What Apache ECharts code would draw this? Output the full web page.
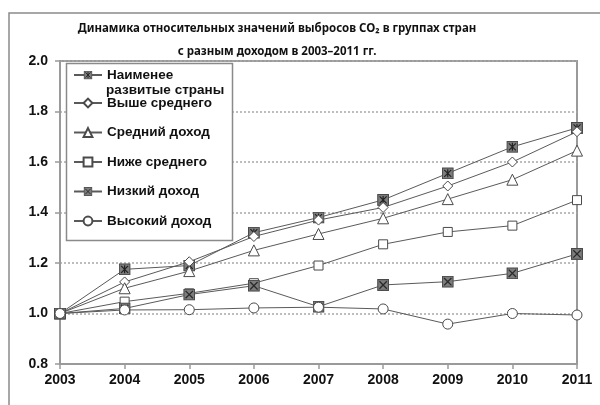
<!DOCTYPE html>
<html>
<head>
<meta charset="utf-8">
<script src="https://cdn.jsdelivr.net/npm/echarts@6/dist/echarts.min.js"></script>
<style>
  html, body { margin: 0; padding: 0; background: #fff; }
  #chart { width: 600px; height: 405px; }
</style>
</head>
<body>
<div id="chart"></div>
<script>
// Years on the category axis
var years = ['2003', '2004', '2005', '2006', '2007', '2008', '2009', '2010', '2011'];

// Relative CO2 emissions (2003 = 1.0) by income group
var leastDeveloped = [1.00, 1.175, 1.19, 1.32, 1.38, 1.45, 1.555, 1.66, 1.735];
var upperMiddle    = [1.00, 1.125, 1.205, 1.305, 1.37, 1.42, 1.505, 1.60, 1.72];
var middleIncome   = [1.00, 1.10, 1.168, 1.25, 1.315, 1.377, 1.453, 1.53, 1.645];
var lowerMiddle    = [1.00, 1.047, 1.08, 1.12, 1.19, 1.274, 1.323, 1.348, 1.449];
var lowIncome      = [1.00, 1.02, 1.075, 1.11, 1.027, 1.113, 1.126, 1.159, 1.236];
var highIncome     = [1.00, 1.014, 1.015, 1.022, 1.025, 1.018, 0.958, 1.0, 0.994];

// Series names as shown in the legend
var names = ['Наименее развитые страны', 'Выше среднего', 'Средний доход',
             'Ниже среднего', 'Низкий доход', 'Высокий доход'];

// Y axis ticks
var yMin = 0.8, yMax = 2.0, yStep = 0.2;

function svgSymbol(svg) {
  return 'image://data:image/svg+xml;charset=utf-8,' + encodeURIComponent(svg);
}
var starBox = svgSymbol("<svg xmlns='http://www.w3.org/2000/svg' width='12' height='12'>" +
  "<rect x='0.6' y='0.6' width='10.8' height='10.8' fill='#7d7d7d' stroke='#4a4a4a' stroke-width='1.2'/>" +
  "<path d='M2.5 2.5L9.5 9.5M9.5 2.5L2.5 9.5M6 2V10' stroke='#222' stroke-width='1.2'/></svg>");
var crossBox = svgSymbol("<svg xmlns='http://www.w3.org/2000/svg' width='12' height='12'>" +
  "<rect x='0.6' y='0.6' width='10.8' height='10.8' fill='#7d7d7d' stroke='#4a4a4a' stroke-width='1.2'/>" +
  "<path d='M2.3 2.3L9.7 9.7M9.7 2.3L2.3 9.7' stroke='#2a2a2a' stroke-width='1.3'/></svg>");

var lineColor = '#5a5a5a';
var edge = '#4a4a4a';

function makeSeries(name, data, symbol, size, filled) {
  return {
    name: name,
    type: 'line',
    data: data,
    symbol: symbol,
    symbolSize: size,
    showAllSymbol: true,
    lineStyle: { color: lineColor, width: 1 },
    itemStyle: { color: filled ? '#7d7d7d' : '#ffffff', borderColor: edge, borderWidth: 1 },
    emphasis: { disabled: true },
    animation: false,
    z: 2
  };
}

var legendText = { fontFamily: 'Liberation Sans', fontWeight: 'bold', fontSize: 13.5, color: '#111' };

var chart = echarts.init(document.getElementById('chart'), null, { renderer: 'canvas' });
chart.setOption({
  animation: false,
  backgroundColor: '#ffffff',
  title: {
    text: 'Динамика относительных значений выбросов CO₂ в группах стран\nс разным доходом в 2003–2011 гг.',
    left: 277,
    top: 17,
    padding: 0,
    textAlign: 'center',
    textStyle: { fontFamily: 'Noto Sans', fontWeight: 'bold', fontSize: 11.5, color: '#111', lineHeight: 23 }
  },
  grid: {
    left: 60, right: 23, top: 61, bottom: 41,
    show: true, borderColor: '#9a9a9a', borderWidth: 2, backgroundColor: 'transparent'
  },
  xAxis: {
    type: 'category',
    data: years,
    boundaryGap: false,
    axisLine: { lineStyle: { color: '#9a9a9a', width: 2 } },
    axisTick: { show: true, length: 5, alignWithLabel: true, lineStyle: { color: '#9a9a9a', width: 1.5 } },
    axisLabel: { margin: 9, fontFamily: 'Liberation Sans', fontWeight: 'bold', fontSize: 14, color: '#111' },
    splitLine: { show: false }
  },
  yAxis: {
    type: 'value',
    min: yMin, max: yMax, interval: yStep,
    axisLine: { show: true, lineStyle: { color: '#9a9a9a', width: 2 } },
    axisTick: { show: true, length: 5, lineStyle: { color: '#9a9a9a', width: 1.5 } },
    axisLabel: {
      margin: 12, fontFamily: 'Liberation Sans', fontWeight: 'bold', fontSize: 14, color: '#111',
      formatter: function (v) { return v.toFixed(1); }
    },
    splitLine: { show: true, lineStyle: { color: '#a8a8a8', width: 1.5, type: [2, 2] } }
  },
  legend: [
    {
      data: [names[0]],
      orient: 'vertical',
      left: 73, top: 68, padding: 0,
      itemWidth: 28, itemHeight: 11,
      formatter: function () { return 'Наименее'; },
      textStyle: legendText,
      selectedMode: false,
      z: 6
    },
    {
      data: names.slice(1),
      orient: 'vertical',
      left: 73, top: 96, padding: 0,
      itemWidth: 28, itemHeight: 11,
      itemGap: 15.5,
      textStyle: legendText,
      selectedMode: false,
      z: 6
    }
  ],
  graphic: [
    {
      type: 'rect', z: 5, silent: true,
      shape: { x: 66.5, y: 63.5, width: 166, height: 177 },
      style: { fill: '#ffffff', stroke: '#8a8a8a', lineWidth: 1.5 }
    },
    {
      type: 'text', z: 6, silent: true, left: 106, top: 83,
      style: { text: 'развитые страны', fill: '#111', font: 'bold 13.5px "Liberation Sans"' }
    },
    {
      type: 'rect', z: 0, silent: true,
      shape: { x: 9, y: 13, width: 700, height: 500 },
      style: { fill: 'none', stroke: '#8a8a8a', lineWidth: 1.5 }
    }
  ],
  series: [
    makeSeries(names[0], leastDeveloped, starBox, 12, true),
    makeSeries(names[1], upperMiddle, 'diamond', 10, false),
    makeSeries(names[2], middleIncome, 'triangle', 11, false),
    makeSeries(names[3], lowerMiddle, 'rect', 9, false),
    makeSeries(names[4], lowIncome, crossBox, 12, true),
    makeSeries(names[5], highIncome, 'circle', 10, false)
  ]
});
</script>
</body>
</html>
